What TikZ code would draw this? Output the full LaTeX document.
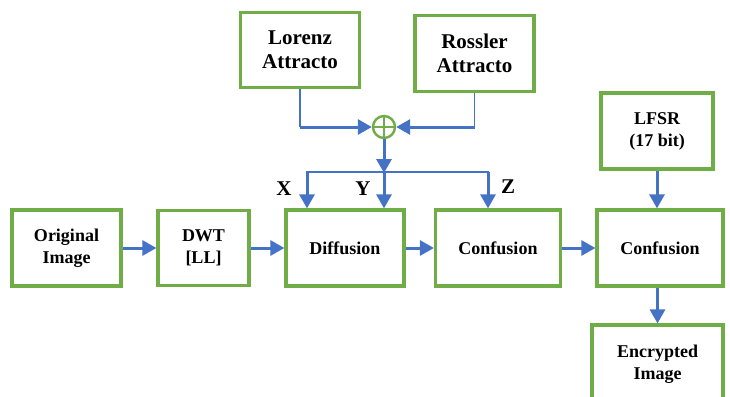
\documentclass[tikz,border=0pt]{standalone}
\usepackage{fontspec}
\setmainfont{Liberation Serif}
\usetikzlibrary{arrows.meta,positioning,calc}
\definecolor{boxgreen}{RGB}{112,173,71}
\definecolor{flowblue}{RGB}{68,114,196}

\begin{document}
\begin{tikzpicture}[
    x=1pt, y=-1pt,
    block/.style={rectangle, draw=boxgreen, line width=3.2pt, fill=white, align=center,
                  font=\bfseries\fontsize{18}{22}\selectfont},
    bigblock/.style={block, font=\bfseries\fontsize{21}{24}\selectfont},
    flow/.style={draw=flowblue, line width=3pt, -{Triangle[length=14pt,width=15pt]}},
    wire/.style={draw=flowblue, line width=1.6pt},
    lbl/.style={font=\bfseries\fontsize{21}{24}\selectfont}
]
    \useasboundingbox (0,0) rectangle (730,396);

    % chaotic key generators
    \node[bigblock, minimum width=119pt, minimum height=75pt] (lorenz)  at (300,50)    {Lorenz\\Attracto};
    \node[bigblock, minimum width=119pt, minimum height=76pt] (rossler) at (474.5,53.5) {Rossler\\Attracto};
    \node[circle, draw=boxgreen, line width=2.4pt, minimum size=22pt, inner sep=0pt] (xor) at (384,127) {};
    \draw[boxgreen, line width=2.4pt] (xor.north) -- (xor.south) (xor.west) -- (xor.east);

    % main pipeline
    \node[block, minimum width=109pt, minimum height=76pt] (orig)  at (66.5,248) {Original\\Image};
    \node[block, minimum width=91pt,  minimum height=75pt] (dwt)   at (203.5,248) {DWT\\{[LL]}};
    \node[block, minimum width=118pt, minimum height=76pt] (diff)  at (345,248)  {Diffusion};
    \node[block, minimum width=125pt, minimum height=76pt] (conf1) at (498,248)  {Confusion};
    \node[block, minimum width=126pt, minimum height=76pt] (conf2) at (660,248)  {Confusion};
    \node[block, minimum width=112pt, minimum height=76pt] (lfsr)  at (657,131)  {LFSR\\(17 bit)};
    \node[block, minimum width=131pt, minimum height=78pt] (enc)   at (657.5,364) {Encrypted\\Image};

    % xor inputs
    \coordinate (lj) at (lorenz.south |- xor.west);
    \coordinate (rj) at (rossler.south |- xor.east);
    \draw[wire] (lorenz.south) -- (lj);
    \draw[wire] (rossler.south) -- (rj);
    \draw[flow] (lj) -- (xor.west);
    \draw[flow] (rj) -- (xor.east);

    % X, Y, Z split
    \coordinate (busl) at (307,172);
    \coordinate (busr) at (488,172);
    \coordinate (busm) at (xor.south |- busl);
    \draw[flow] (xor.south) -- ([yshift=-1pt]busm);
    \draw[wire] ([yshift=-2pt]busl) -- (busl) -- (busr) -- ([yshift=-2pt]busr);
    \draw[flow] (busl) -- (busl |- diff.north);
    \draw[flow] (busm) -- (busm |- diff.north);
    \draw[flow] (busr) -- (busr |- conf1.north);
    \node[lbl] (lx) at (284,189) {X};
    \node[lbl] (ly) at (363,189) {Y};
    \node[lbl] (lz) at (508,187) {Z};

    \draw[flow] (orig)  -- (dwt);
    \draw[flow] (dwt)   -- (diff);
    \draw[flow] (diff)  -- (conf1);
    \draw[flow] (conf1) -- (conf2);
    \draw[flow] (lfsr.south) -- (lfsr.south |- conf2.north);
    \draw[flow] (enc.north |- conf2.south) -- (enc.north);
\end{tikzpicture}
\end{document}
